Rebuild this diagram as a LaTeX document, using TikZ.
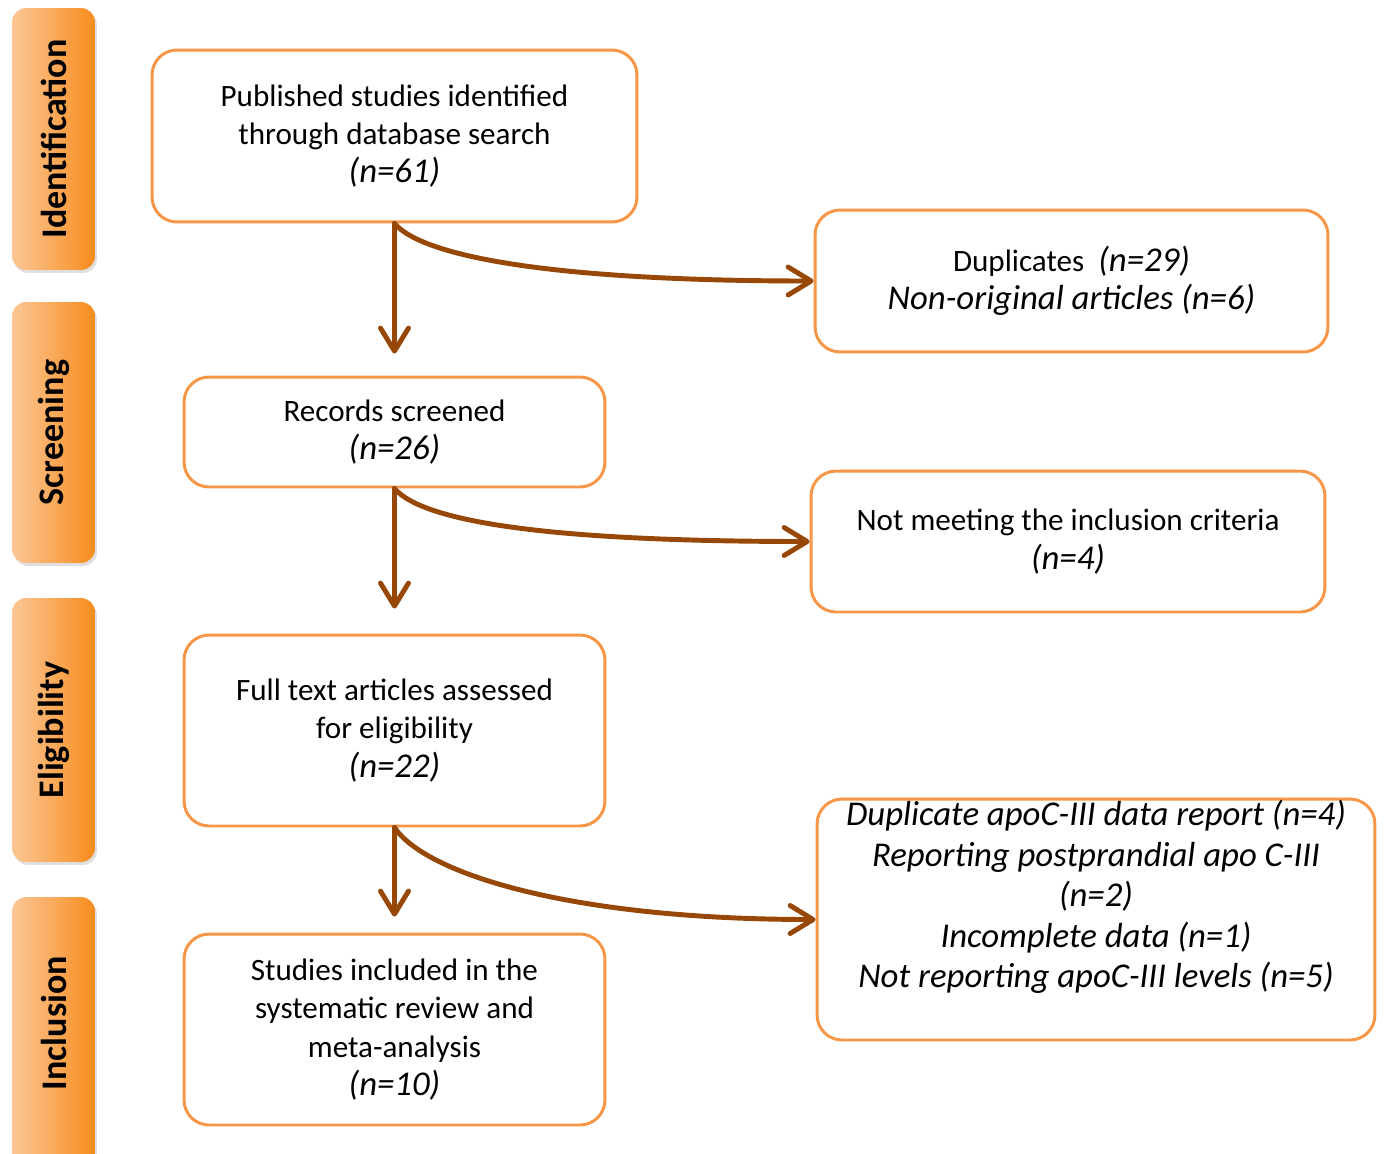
\documentclass[tikz,border=0pt]{standalone}
\usepackage{fontspec}
\setmainfont{Carlito}
\usetikzlibrary{arrows.meta,shadows}
\definecolor{boxorange}{HTML}{F79646}
\definecolor{arrowbrown}{HTML}{974706}
\definecolor{stagelight}{HTML}{FCC796}
\definecolor{stagedark}{HTML}{F78C1E}
\newcommand\countsize{\fontsize{19.8pt}{21.8pt}\selectfont\itshape}
\begin{document}
\begin{tikzpicture}[
    x=0.02cm, y=-0.02cm,
    stage/.style={rounded corners=0.28cm, minimum width=1.66cm,
      left color=stagelight, right color=stagedark, shading angle=90,
      drop shadow={opacity=0.25, shadow xshift=0.04cm, shadow yshift=-0.06cm}},
    stagetext/.style={rotate=90, font=\fontsize{20.5pt}{24pt}\selectfont\bfseries},
    box/.style={draw=boxorange, line width=1.7pt, rounded corners=0.5cm,
      align=center, font=\fontsize{17.7pt}{21.8pt}\selectfont},
    flow/.style={draw=arrowbrown, line width=2.8pt, line cap=round,
      -{Straight Barb[length=4.6mm, width=5.6mm, round]}}
  ]
  \useasboundingbox (0,0) rectangle (1385,1153);
  % stages on the left
  \node[stage, minimum height=5.24cm] (ident) at (53.5,139) {};
  \node[stagetext] at (ident) {Identification};
  \node[stage, minimum height=5.22cm] (screen) at (53.5,432.5) {};
  \node[stagetext] at (screen) {Screening};
  \node[stage, minimum height=5.28cm] (elig) at (53.5,730) {};
  \node[stagetext] at (elig) {Eligibility};
  \node[stage, minimum height=5.4cm] (incl) at (53.5,1032) {};
  \node[stagetext] at (53.5,1023) {Inclusion};
  % main column
  \node[box, minimum width=9.7cm, minimum height=3.44cm] (published) at (394.5,136)
    {Published studies identified\\ through database search\\ {\countsize(n=61)}};
  \node[box, minimum width=8.42cm, minimum height=2.2cm] (records) at (394.5,432)
    {Records screened\\ {\countsize(n=26)}};
  \node[box, minimum width=8.42cm, minimum height=3.82cm] (fulltext) at (394.5,730.5)
    {Full text articles assessed\\ for eligibility\\ {\countsize(n=22)}};
  \node[box, minimum width=8.42cm, minimum height=3.82cm] (included) at (394.5,1029.5)
    {Studies included in the\\ systematic review and\\ meta-analysis\\ {\countsize(n=10)}};
  % excluded column
  \node[box, minimum width=10.26cm, minimum height=2.84cm] (duplicates) at (1071.5,281)
    {Duplicates\ \ {\countsize(n=29)}\\ {\countsize Non-original articles (n=6)}};
  \node[box, minimum width=10.28cm, minimum height=2.82cm] (notmeeting) at (1068,541.5)
    {Not meeting the inclusion criteria\\ {\countsize(n=4)}};
  \node[box, minimum width=11.16cm, minimum height=4.82cm] (excluded) at (1096,919.5) {};
  \node[align=center, font=\fontsize{19.8pt}{23pt}\selectfont\itshape] at (1096,897)
    {Duplicate apoC-III data report (n=4)\\ Reporting postprandial apo C-III\\ (n=2)\\
     Incomplete data (n=1)\\ Not reporting apoC-III levels (n=5)};
  % arrows
  \draw[flow, shorten >=0.44cm] (published.south) -- (records.north);
  \draw[flow, shorten >=0.5cm] (records.south) -- (fulltext.north);
  \draw[flow, shorten >=0.32cm] (fulltext.south) -- (included.north);
  \draw[flow] (published.south) .. controls +(30,35) and +(-250,0) .. (duplicates.west);
  \draw[flow] (records.south) .. controls +(30,35) and +(-250,0) .. (notmeeting.west);
  \draw[flow] (fulltext.south) .. controls +(30,45) and +(-250,0) .. (excluded.west);
\end{tikzpicture}
\end{document}
